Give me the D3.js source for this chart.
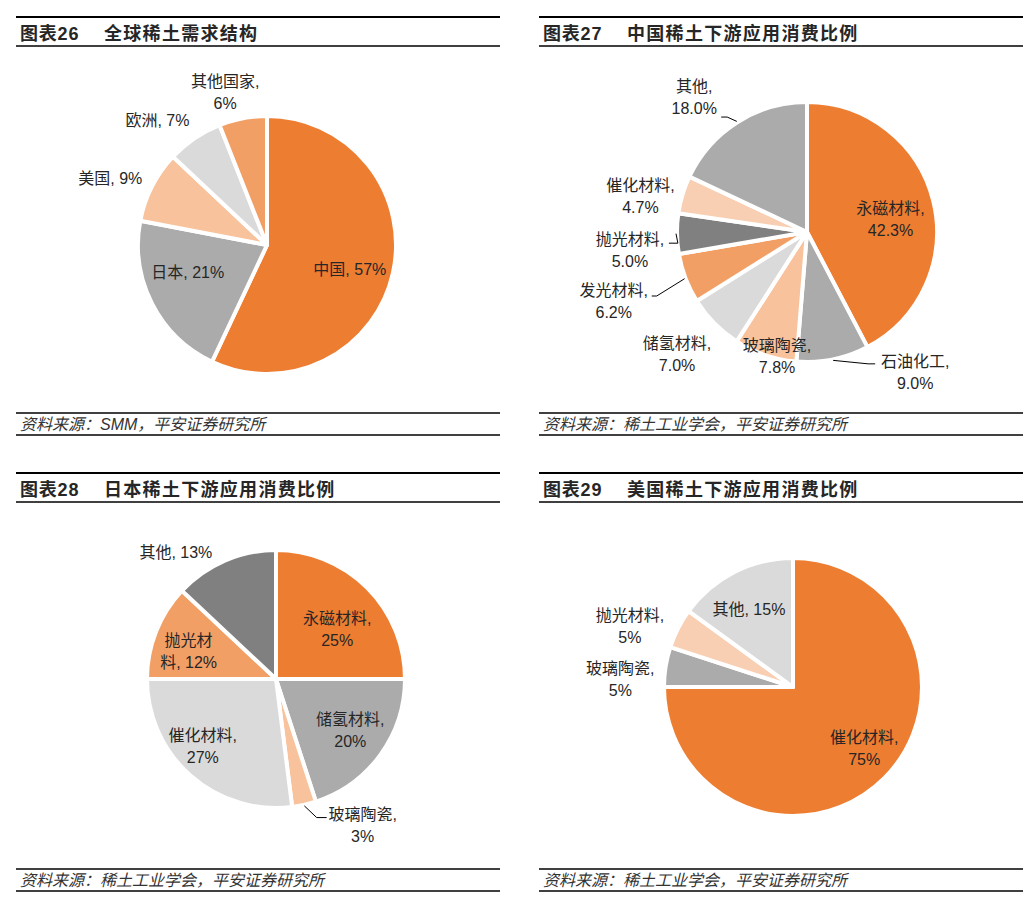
<!DOCTYPE html>
<html>
<head>
<meta charset="utf-8">
<script src="https://cdn.jsdelivr.net/npm/d3@7"></script>
<style>
    body { margin:0; background:#fff; }
    text { font-family:"Liberation Sans", Arial, "Noto Sans CJK SC", sans-serif; fill:#262626; }
</style>
</head>
<body>
<svg id="page" width="1034" height="902"></svg>
<script>
    'use strict';

    // chart 26: global demand
    var globalLabels = ['中国', '日本', '美国', '欧洲', '其他国家'];
    var globalValues = [57, 21, 9, 7, 6];

    // chart 27: China downstream use
    var chinaLabels = ['永磁材料', '石油化工', '玻璃陶瓷', '储氢材料', '发光材料', '抛光材料', '催化材料', '其他'];
    var chinaValues = [42.3, 9.0, 7.8, 7.0, 6.2, 5.0, 4.7, 18.0];

    // chart 28: Japan downstream use
    var japanLabels = ['永磁材料', '储氢材料', '玻璃陶瓷', '催化材料', '抛光材料', '其他'];
    var japanValues = [25, 20, 3, 27, 12, 13];

    // chart 29: US downstream use
    var usLabels = ['催化材料', '玻璃陶瓷', '抛光材料', '其他'];
    var usValues = [75, 5, 5, 15];

    var SOURCE_SMM = '资料来源：SMM，平安证券研究所',
        SOURCE_CSRE = '资料来源：稀土工业学会，平安证券研究所';

    var C = {
        orange:'#ED7D31', midOrange:'#F29F66', lightOrange:'#F8C29C', paleOrange:'#F9CFB3',
        gray:'#ABABAB', lightGray:'#DADADA', darkGray:'#808080'
    };

    /******************************************************************
        panel layout ( label: [radius factor, angle nudge deg, wrap] )
     ******************************************************************/
    var panels = [
        { x0:16, y0:17, num:'26', title:'全球稀土需求结构', source:SOURCE_SMM,
          labels:globalLabels, values:globalValues, fmt:d3.format('d'),
          cx:267, cy:245, r:129,
          colors:[C.orange, C.gray, C.lightOrange, C.lightGray, C.midOrange],
          place:[[0.67,4,0],[0.65,8,0],[1.32,-4,0],[1.29,-7,0],[1.23,-4.5,5]],
          leaders:{} },
        { x0:539, y0:17, num:'27', title:'中国稀土下游应用消费比例', source:SOURCE_CSRE,
          labels:chinaLabels, values:chinaValues, fmt:d3.format('.1f'),
          cx:807, cy:232, r:130,
          colors:[C.orange, C.gray, C.lightOrange, C.lightGray, C.midOrange, C.darkGray, C.paleOrange, C.gray],
          place:[[0.65,5.3,5],[1.36,-26.2,5],[0.985,-5.2,5],[1.37,1.5,5],[1.58,1.1,5],[1.37,-5.3,5],[1.31,-4.7,5],[1.35,-7.6,3]],
          leaders:{ 1:[-40,-8,-7], 4:[38,-5.5,5], 5:[39,-7.5,9], 7:[27,19.5,6] } },
        { x0:16, y0:473, num:'28', title:'日本稀土下游应用消费比例', source:SOURCE_CSRE,
          labels:japanLabels, values:japanValues, fmt:d3.format('d'),
          cx:276, cy:679, r:129,
          colors:[C.orange, C.gray, C.lightOrange, C.lightGray, C.midOrange, C.darkGray],
          place:[[0.61,6,5],[0.70,-1.4,5],[1.32,-18,5],[0.77,6.1,5],[0.71,-4.2,3],[1.25,-15,0]],
          leaders:{ 2:[-36,-8,-10] } },
        { x0:539, y0:473, num:'29', title:'美国稀土下游应用消费比例', source:SOURCE_CSRE,
          labels:usLabels, values:usValues, fmt:d3.format('d'),
          cx:793, cy:687, r:129,
          colors:[C.orange, C.gray, C.paleOrange, C.lightGray],
          place:[[0.73,-4.1,5],[1.34,-6.4,5],[1.35,-6.5,5],[0.69,-2.7,0]],
          leaders:{} }
    ];

    var svg = d3.select('#page'),
        W = 484, LH = 22;

    function polar(a, R) {
        return [R * Math.sin(a), -R * Math.cos(a)];
    }

    function rule(g, x, y, w, sw) {
        g.append('line')
            .attr('x1', x).attr('x2', x + w)
            .attr('y1', y).attr('y2', y)
            .attr('stroke', '#000')
            .attr('stroke-width', sw);
    }

    function drawPanel(p) {
        var g = svg.append('g');

        // header
        rule(g, p.x0, p.y0, W, 2);
        rule(g, p.x0, p.y0 + 29, W, 1.5);

        g.append('text')
            .attr('x', p.x0 + 4).attr('y', p.y0 + 23)
            .style('font-size', '18px').style('font-weight', 'bold')
            .style('letter-spacing', '0.8px')
            .text('图表' + p.num);

        g.append('text')
            .attr('x', p.x0 + 88).attr('y', p.y0 + 23)
            .style('font-size', '18px').style('font-weight', 'bold')
            .style('letter-spacing', '1.3px')
            .text(p.title);

        // footer
        rule(g, p.x0, p.y0 + 396, W, 1.5);
        rule(g, p.x0, p.y0 + 418, W, 1.5);

        g.append('text')
            .attr('x', p.x0 + 4).attr('y', p.y0 + 413)
            .style('font-size', '16px').style('font-style', 'italic')
            .style('fill', '#333')
            .text(p.source);

        // pie
        var arcs = d3.pie().sort(null)(p.values),
            arc = d3.arc().innerRadius(0).outerRadius(p.r);

        var pg = g.append('g')
            .attr('transform', 'translate(' + [p.cx, p.cy] + ')');

        pg.selectAll('path.slice')
            .data(arcs).enter()
                .append('path')
                    .attr('class', 'slice')
                    .attr('d', arc)
                    .attr('fill', function(d, i) { return p.colors[i]; })
                    .attr('stroke', '#fff')
                    .attr('stroke-width', 4)
                    .attr('stroke-linejoin', 'round');

        // labels
        arcs.forEach(function(d, i) {
            var pl = p.place[i],
                mid = (d.startAngle + d.endAngle) / 2,
                pos = polar(mid + pl[1] * Math.PI / 180, pl[0] * p.r),
                str = p.labels[i] + ', ' + p.fmt(d.data) + '%',
                lines = pl[2] ? [str.slice(0, pl[2]), str.slice(pl[2]).trim()] : [str];

            var t = pg.append('text')
                .attr('text-anchor', 'middle')
                .style('font-size', '16px');

            lines.forEach(function(s, k) {
                t.append('tspan')
                    .attr('x', pos[0])
                    .attr('y', pos[1] - (lines.length - 1) * LH / 2 + k * LH)
                    .attr('dy', '0.36em')
                    .text(s);
            });

            var ld = p.leaders[i];
            if (ld) {
                var start = polar(mid, p.r + 1),
                    end = [pos[0] + ld[0], pos[1] + ld[1]],
                    elbow = [end[0] + ld[2], end[1]];

                pg.append('path')
                    .attr('d', d3.line()([start, elbow, end]))
                    .attr('fill', 'none')
                    .attr('stroke', '#000')
                    .attr('stroke-width', 1);
            }
        });
    }

    panels.forEach(drawPanel);
</script>
</body>
</html>
